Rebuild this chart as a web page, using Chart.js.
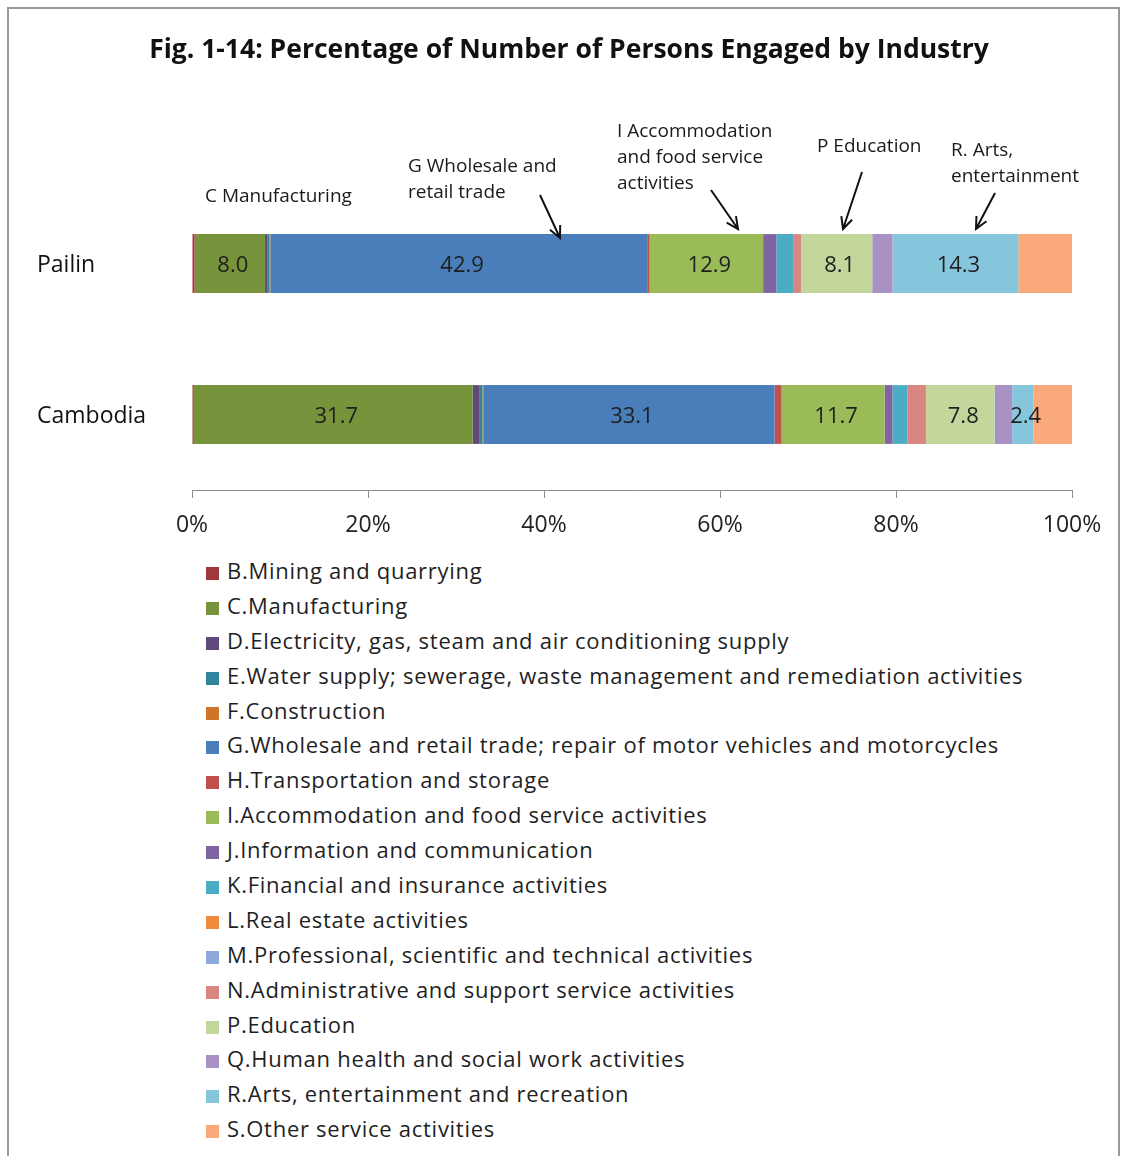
<!DOCTYPE html>
<html>
<head>
<meta charset="utf-8">
<script src="https://cdn.jsdelivr.net/npm/chart.js@4.4.0/dist/chart.umd.min.js"></script>
<style>
  body { margin: 0; background: #fff; font-family: "Open Sans", sans-serif; }
  #frame { position: absolute; left: 7px; top: 7px; width: 1109px; height: 1160px;
    border-left: 2px solid #9a9a9a; border-top: 2px solid #9a9a9a; border-right: 2px solid #9a9a9a; }
  #wrap { position: absolute; left: 0; top: 0; width: 1121px; height: 550px; }
  #legend { position: absolute; left: 206px; top: 553px; margin: 0; padding: 0; list-style: none; }
  #legend li { height: 34.9px; line-height: 34.9px; font-size: 22px; letter-spacing: 0.72px; color: #1f1f1f; white-space: nowrap; }
  #legend span { display: inline-block; width: 13px; height: 13px; margin-right: 8px; vertical-align: -1px; }
</style>
</head>
<body>
<div id="frame"></div>
<div id="wrap"><canvas id="chart" width="1121" height="550"></canvas></div>
<ul id="legend"></ul>
<script>
const titleText = "Fig. 1-14: Percentage of Number of Persons Engaged by Industry";
const regions = ["Pailin", "Cambodia"];
const industries = [
  "B.Mining and quarrying",
  "C.Manufacturing",
  "D.Electricity, gas, steam and air conditioning supply",
  "E.Water supply; sewerage, waste management and remediation activities",
  "F.Construction",
  "G.Wholesale and retail trade; repair of motor vehicles and motorcycles",
  "H.Transportation and storage",
  "I.Accommodation and food service activities",
  "J.Information and communication",
  "K.Financial and insurance activities",
  "L.Real estate activities",
  "M.Professional, scientific and technical activities",
  "N.Administrative and support service activities",
  "P.Education",
  "Q.Human health and social work activities",
  "R.Arts, entertainment and recreation",
  "S.Other service activities"
];
// percent of persons engaged, same order as industries
const pailin   = [0.3, 8.0, 0.3, 0.2, 0.1, 42.9, 0.2, 12.9, 1.5, 1.9, 0.0, 0.0, 0.9, 8.1, 2.3, 14.3, 6.1];
const cambodia = [0.2, 31.7, 0.8, 0.3, 0.1, 33.1, 0.8, 11.7, 0.9, 1.7, 0.0, 0.0, 2.1, 7.8, 2.0, 2.4, 4.4];
const colors = ["#A0373A", "#77933C", "#604A7B", "#31859C", "#D0742A", "#4A7EBB", "#C0504D", "#9BBB59",
  "#8064A2", "#4BACC6", "#F08A3C", "#8EA9DB", "#D98683", "#C3D69B", "#A991C4", "#86C6DC", "#F9A97A"];
// only these segments carry a value label
const labelled = ["C.Manufacturing", "G.Wholesale and retail trade; repair of motor vehicles and motorcycles",
  "I.Accommodation and food service activities", "P.Education", "R.Arts, entertainment and recreation"];
const xTicks = [0, 20, 40, 60, 80, 100];

const callouts = [
  { lines: ["C Manufacturing"], x: 205, y: 197 },
  { lines: ["G Wholesale and", "retail trade"], x: 408, y: 167, arrow: [540, 195, 560, 238] },
  { lines: ["I Accommodation", "and food service", "activities"], x: 617, y: 132, arrow: [711, 190, 738, 229] },
  { lines: ["P Education"], x: 817, y: 147, arrow: [862, 172, 843, 229] },
  { lines: ["R. Arts,", "entertainment"], x: 951, y: 151, arrow: [995, 193, 976, 229] }
];

const datasets = industries.map((name, i) => ({
  label: name,
  data: [pailin[i], cambodia[i]],
  backgroundColor: colors[i],
  borderWidth: 0,
  barPercentage: 0.59,
  categoryPercentage: 0.66
}));

const segmentLabels = {
  id: "segmentLabels",
  afterDatasetsDraw(chart) {
    const ctx = chart.ctx;
    ctx.save();
    ctx.font = "22px 'Open Sans'";
    ctx.fillStyle = "#1f1f1f";
    ctx.textAlign = "center";
    ctx.textBaseline = "middle";
    chart.data.datasets.forEach((ds, i) => {
      if (!labelled.includes(ds.label)) return;
      chart.getDatasetMeta(i).data.forEach((bar, j) => {
        const cx = (bar.x + bar.base) / 2 + 3;
        ctx.fillText(ds.data[j].toFixed(1), cx, bar.y + 2);
      });
    });
    ctx.restore();
  }
};

// title and the arrowed notes above the Pailin bar
const calloutPlugin = {
  id: "callouts",
  afterDraw(chart) {
    const ctx = chart.ctx;
    ctx.save();
    ctx.textBaseline = "middle";
    ctx.font = "bold 26.5px 'Open Sans'";
    ctx.fillStyle = "#111";
    ctx.textAlign = "center";
    ctx.fillText(titleText, 569, 50);
    ctx.textAlign = "left";
    ctx.font = "19px 'Open Sans'";
    ctx.fillStyle = "#1a1a1a";
    callouts.forEach(c => {
      c.lines.forEach((t, k) => ctx.fillText(t, c.x, c.y + k * 26));
      if (!c.arrow) return;
      const [x1, y1, x2, y2] = c.arrow;
      ctx.strokeStyle = "#111";
      ctx.lineWidth = 2;
      ctx.beginPath();
      ctx.moveTo(x1, y1);
      ctx.lineTo(x2, y2);
      const a = Math.atan2(y2 - y1, x2 - x1);
      ctx.moveTo(x2 - 13 * Math.cos(a - 0.45), y2 - 13 * Math.sin(a - 0.45));
      ctx.lineTo(x2, y2);
      ctx.lineTo(x2 - 13 * Math.cos(a + 0.45), y2 - 13 * Math.sin(a + 0.45));
      ctx.stroke();
    });
    ctx.restore();
  }
};

const chart = new Chart(document.getElementById("chart"), {
  type: "bar",
  data: { labels: regions, datasets: datasets },
  plugins: [segmentLabels, calloutPlugin],
  options: {
    indexAxis: "y",
    responsive: false,
    animation: false,
    layout: { padding: { left: 37, right: 49, top: 188, bottom: 0 } },
    plugins: {
      legend: { display: false },
      tooltip: { enabled: false },
      title: { display: false }
    },
    scales: {
      x: {
        stacked: true,
        min: 0,
        max: 100,
        afterBuildTicks: (s) => { s.ticks = xTicks.map(v => ({ value: v })); },
        afterFit: (s) => { s.height = 60; },
        ticks: { callback: (v) => v + "%", font: { family: "'Open Sans'", size: 23 }, color: "#222", padding: 14 },
        grid: { drawOnChartArea: false, drawTicks: true, tickLength: 8, color: "#8c8c8c" },
        border: { display: true, color: "#8c8c8c", width: 1 }
      },
      y: {
        stacked: true,
        afterFit: (s) => { s.width = 155; },
        ticks: { crossAlign: "far", labelOffset: 2, font: { family: "'Open Sans'", size: 23 }, color: "#111" },
        grid: { display: false },
        border: { display: false }
      }
    }
  }
});

const legend = document.getElementById("legend");
chart.data.datasets.forEach(ds => {
  const li = document.createElement("li");
  const box = document.createElement("span");
  box.style.background = ds.backgroundColor;
  li.appendChild(box);
  li.appendChild(document.createTextNode(ds.label));
  legend.appendChild(li);
});
</script>
</body>
</html>
